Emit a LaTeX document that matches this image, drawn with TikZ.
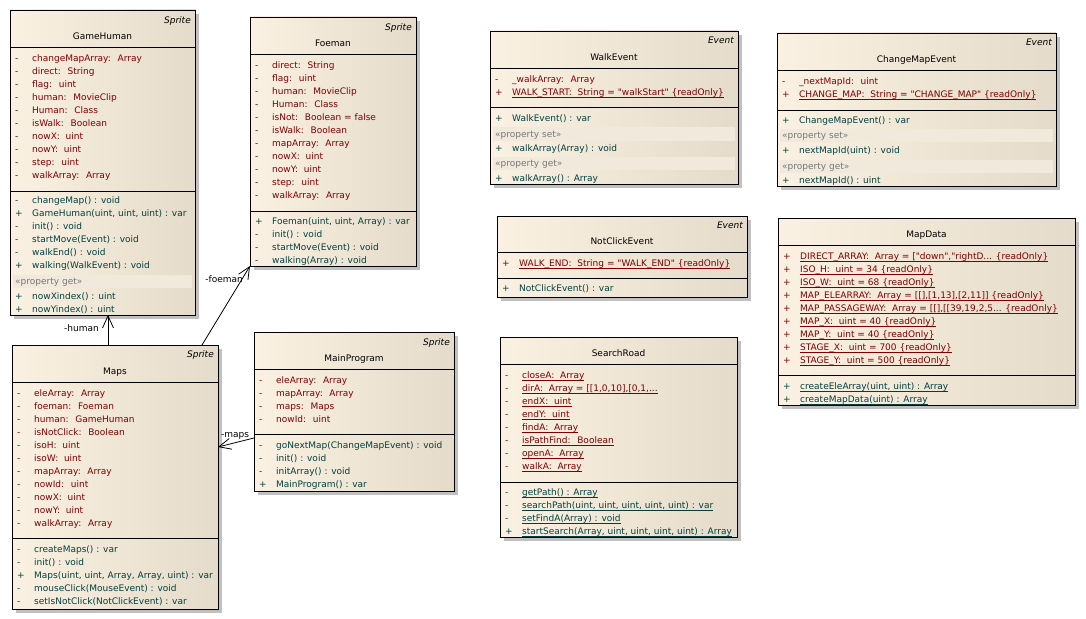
\documentclass[tikz,border=0pt]{standalone}
\usepackage{fontspec}
\newfontfamily\dv{DejaVu Sans}
\usetikzlibrary{arrows.meta}
\definecolor{attrc}{RGB}{128,0,0}
\definecolor{opc}{RGB}{0,64,64}
\definecolor{bgl}{RGB}{251,241,226}
\definecolor{bgr}{RGB}{229,219,202}
\definecolor{bandc}{RGB}{241,233,220}
\definecolor{shadc}{RGB}{192,192,192}
\definecolor{stc}{RGB}{120,120,120}
\newcounter{tn}
\newcommand\fs{\dv\fontsize{9}{11}\selectfont}
\newcommand\uln[1]{\setbox0\hbox{#1}\rlap{\rule[-2.3pt]{\wd0}{0.75pt}}\box0}
\tikzset{
 cls/.style={draw=black, line width=0.9pt, left color=bgl, right color=bgr, inner sep=0pt, outer sep=0pt, anchor=north west},
 shadowbox/.style={fill=shadc},
 sepline/.style={draw=black, line width=0.9pt},
 txt/.style={font=\fs, inner sep=0pt, anchor=base west},
 attr/.style={txt, text=attrc},
 op/.style={txt, text=opc},
 ster/.style={txt, text=stc},
 bandfill/.style={fill=bandc},
 cname/.style={font=\fs, inner sep=0pt, anchor=base},
 stype/.style={font=\fs\itshape, inner sep=0pt, anchor=base east},
 assoc/.style={draw=black, line width=0.8pt, -{Straight Barb[length=12pt,width=11pt]}},
 role/.style={font=\fs, inner sep=0pt},
}
% name, left, top, right, bottom
\newcommand\cbox[5]{%
 \fill[shadowbox] (#2+4,#3+4) rectangle (#4+4,#5+4);
 \node[cls, minimum width={#4-#2}, minimum height={#5-#3}, name=#1] at (#2,#3) {};}
% style, left, y, symbol, text
\newcommand\mrow[5]{\stepcounter{tn}%
 \node[#1, name=v\arabic{tn}] at (#2+5,#3+3.3) {#4};%
 \node[#1, name=n\arabic{tn}] at (#2+22,#3+3.3) {#5};}
% left, right, top, bottom, text
\newcommand\band[5]{\stepcounter{tn}%
 \fill[bandfill] (#1+3,#3) rectangle (#2-3,#4);
 \node[ster, name=b\arabic{tn}] at (#1+5,#3/2+#4/2+3.3) {#5};}
\newcommand\sepl[3]{\draw[sepline] (#1,#3) -- (#2,#3);}

\begin{document}
\begin{tikzpicture}[x=1pt,y=-1pt]
\fill[white] (0,0) rectangle (1086,618);
\useasboundingbox (0,0) rectangle (1086,618);

% ---------------- GameHuman
\cbox{gh}{10}{10}{195}{315}
\node[stype, name=ghs] at (191,23.3) {Sprite};
\node[cname, name=ghn] at (102.5,39.3) {GameHuman};
\sepl{10}{195}{47}
\mrow{attr}{10}{58}{-}{changeMapArray:~ Array}
\mrow{attr}{10}{71}{-}{direct:~ String}
\mrow{attr}{10}{84}{-}{flag:~ uint}
\mrow{attr}{10}{97}{-}{human:~ MovieClip}
\mrow{attr}{10}{110}{-}{Human:~ Class}
\mrow{attr}{10}{123}{-}{isWalk:~ Boolean}
\mrow{attr}{10}{136}{-}{nowX:~ uint}
\mrow{attr}{10}{149}{-}{nowY:~ uint}
\mrow{attr}{10}{162}{-}{step:~ uint}
\mrow{attr}{10}{175}{-}{walkArray:~ Array}
\sepl{10}{195}{191}
\mrow{op}{10}{200}{-}{changeMap() : void}
\mrow{op}{10}{213}{+}{GameHuman(uint, uint, uint) : var}
\mrow{op}{10}{226}{-}{init() : void}
\mrow{op}{10}{239}{-}{startMove(Event) : void}
\mrow{op}{10}{252}{-}{walkEnd() : void}
\mrow{op}{10}{265}{+}{walking(WalkEvent) : void}
\band{10}{195}{275}{288}{«property get»}
\mrow{op}{10}{296}{+}{nowXindex() : uint}
\mrow{op}{10}{309}{+}{nowYindex() : uint}

% ---------------- Foeman
\cbox{fo}{250}{17}{416}{266}
\node[stype, name=fos] at (412,30.3) {Sprite};
\node[cname, name=fon] at (333,46.3) {Foeman};
\sepl{250}{416}{54}
\mrow{attr}{250}{65}{-}{direct:~ String}
\mrow{attr}{250}{78}{-}{flag:~ uint}
\mrow{attr}{250}{91}{-}{human:~ MovieClip}
\mrow{attr}{250}{104}{-}{Human:~ Class}
\mrow{attr}{250}{117}{-}{isNot:~ Boolean = false}
\mrow{attr}{250}{130}{-}{isWalk:~ Boolean}
\mrow{attr}{250}{143}{-}{mapArray:~ Array}
\mrow{attr}{250}{156}{-}{nowX:~ uint}
\mrow{attr}{250}{169}{-}{nowY:~ uint}
\mrow{attr}{250}{182}{-}{step:~ uint}
\mrow{attr}{250}{195}{-}{walkArray:~ Array}
\sepl{250}{416}{211}
\mrow{op}{250}{221}{+}{Foeman(uint, uint, Array) : var}
\mrow{op}{250}{234}{-}{init() : void}
\mrow{op}{250}{247}{-}{startMove(Event) : void}
\mrow{op}{250}{260}{-}{walking(Array) : void}

% ---------------- Maps
\cbox{maps}{12}{345}{218}{609}
\node[stype, name=mas] at (214,357.3) {Sprite};
\node[cname, name=man] at (115,374.3) {Maps};
\sepl{12}{218}{382}
\mrow{attr}{12}{393}{-}{eleArray:~ Array}
\mrow{attr}{12}{406}{-}{foeman:~ Foeman}
\mrow{attr}{12}{419}{-}{human:~ GameHuman}
\mrow{attr}{12}{432}{-}{isNotClick:~ Boolean}
\mrow{attr}{12}{445}{-}{isoH:~ uint}
\mrow{attr}{12}{458}{-}{isoW:~ uint}
\mrow{attr}{12}{471}{-}{mapArray:~ Array}
\mrow{attr}{12}{484}{-}{nowId:~ uint}
\mrow{attr}{12}{497}{-}{nowX:~ uint}
\mrow{attr}{12}{510}{-}{nowY:~ uint}
\mrow{attr}{12}{523}{-}{walkArray:~ Array}
\sepl{12}{218}{538}
\mrow{op}{12}{549}{-}{createMaps() : var}
\mrow{op}{12}{562}{-}{init() : void}
\mrow{op}{12}{575}{+}{Maps(uint, uint, Array, Array, uint) : var}
\mrow{op}{12}{588}{-}{mouseClick(MouseEvent) : void}
\mrow{op}{12}{601}{-}{setIsNotClick(NotClickEvent) : var}

% ---------------- MainProgram
\cbox{mpg}{254}{332}{454}{491}
\node[stype, name=mps] at (450,345.3) {Sprite};
\node[cname, name=mpn] at (354,361.3) {MainProgram};
\sepl{254}{454}{369}
\mrow{attr}{254}{380}{-}{eleArray:~ Array}
\mrow{attr}{254}{393}{-}{mapArray:~ Array}
\mrow{attr}{254}{406}{-}{maps:~ Maps}
\mrow{attr}{254}{419}{-}{nowId:~ uint}
\sepl{254}{454}{434}
\mrow{op}{254}{445}{-}{goNextMap(ChangeMapEvent) : void}
\mrow{op}{254}{458}{-}{init() : void}
\mrow{op}{254}{471}{-}{initArray() : void}
\mrow{op}{254}{484}{+}{MainProgram() : var}

% ---------------- WalkEvent
\cbox{we}{490}{31}{738}{184}
\node[stype, name=wes] at (734,43.3) {Event};
\node[cname, name=wen] at (614,60.3) {WalkEvent};
\sepl{490}{738}{68}
\mrow{attr}{490}{79}{-}{\_walkArray:~ Array}
\mrow{attr}{490}{92}{+}{\uln{WALK\_START:~ String = "walkStart" \{readOnly\}}}
\sepl{490}{738}{107}
\mrow{op}{490}{118}{+}{WalkEvent() : var}
\band{490}{738}{127}{141}{«property set»}
\mrow{op}{490}{148}{+}{walkArray(Array) : void}
\band{490}{738}{157}{170}{«property get»}
\mrow{op}{490}{178}{+}{walkArray() : Array}

% ---------------- ChangeMapEvent
\cbox{cme}{777}{33}{1056}{186}
\node[stype, name=cmes] at (1052,45.3) {Event};
\node[cname, name=cmen] at (916.5,62.3) {ChangeMapEvent};
\sepl{777}{1056}{70}
\mrow{attr}{777}{81}{-}{\_nextMapId:~ uint}
\mrow{attr}{777}{94}{+}{\uln{CHANGE\_MAP:~ String = "CHANGE\_MAP" \{readOnly\}}}
\sepl{777}{1056}{110}
\mrow{op}{777}{120}{+}{ChangeMapEvent() : var}
\band{777}{1056}{129}{142}{«property set»}
\mrow{op}{777}{150}{+}{nextMapId(uint) : void}
\band{777}{1056}{160}{173}{«property get»}
\mrow{op}{777}{180}{+}{nextMapId() : uint}

% ---------------- NotClickEvent
\cbox{nce}{497}{216}{747}{297}
\node[stype, name=nces] at (743,228.3) {Event};
\node[cname, name=ncen] at (622,244.3) {NotClickEvent};
\sepl{497}{747}{252}
\mrow{attr}{497}{263}{+}{\uln{WALK\_END:~ String = "WALK\_END" \{readOnly\}}}
\sepl{497}{747}{278}
\mrow{op}{497}{288}{+}{NotClickEvent() : var}

% ---------------- SearchRoad
\cbox{sr}{500}{337}{737}{537}
\node[cname, name=srn] at (618.5,356.3) {SearchRoad};
\sepl{500}{737}{364}
\mrow{attr}{500}{375}{-}{\uln{closeA:~ Array}}
\mrow{attr}{500}{388}{-}{\uln{dirA:~ Array = [[1,0,10],[0,1,...}}
\mrow{attr}{500}{401}{-}{\uln{endX:~ uint}}
\mrow{attr}{500}{414}{-}{\uln{endY:~ uint}}
\mrow{attr}{500}{427}{-}{\uln{findA:~ Array}}
\mrow{attr}{500}{440}{-}{\uln{isPathFind:~ Boolean}}
\mrow{attr}{500}{453}{-}{\uln{openA:~ Array}}
\mrow{attr}{500}{466}{-}{\uln{walkA:~ Array}}
\sepl{500}{737}{482}
\mrow{op}{500}{492}{-}{\uln{getPath() : Array}}
\mrow{op}{500}{505}{-}{\uln{searchPath(uint, uint, uint, uint, uint) : var}}
\mrow{op}{500}{518}{-}{\uln{setFindA(Array) : void}}
\mrow{op}{500}{531}{+}{\uln{startSearch(Array, uint, uint, uint, uint) : Array}}

% ---------------- MapData
\cbox{md}{778}{218}{1075}{405}
\node[cname, name=mdn] at (926.5,237.3) {MapData};
\sepl{778}{1075}{245}
\mrow{attr}{778}{256}{+}{\uln{DIRECT\_ARRAY:~ Array = ["down","rightD... \{readOnly\}}}
\mrow{attr}{778}{269}{+}{\uln{ISO\_H:~ uint = 34 \{readOnly\}}}
\mrow{attr}{778}{282}{+}{\uln{ISO\_W:~ uint = 68 \{readOnly\}}}
\mrow{attr}{778}{295}{+}{\uln{MAP\_ELEARRAY:~ Array = [[],[1,13],[2,11]] \{readOnly\}}}
\mrow{attr}{778}{308}{+}{\uln{MAP\_PASSAGEWAY:~ Array = [[],[[39,19,2,5... \{readOnly\}}}
\mrow{attr}{778}{321}{+}{\uln{MAP\_X:~ uint = 40 \{readOnly\}}}
\mrow{attr}{778}{334}{+}{\uln{MAP\_Y:~ uint = 40 \{readOnly\}}}
\mrow{attr}{778}{347}{+}{\uln{STAGE\_X:~ uint = 700 \{readOnly\}}}
\mrow{attr}{778}{360}{+}{\uln{STAGE\_Y:~ uint = 500 \{readOnly\}}}
\sepl{778}{1075}{375}
\mrow{op}{778}{386}{+}{\uln{createEleArray(uint, uint) : Array}}
\mrow{op}{778}{399}{+}{\uln{createMapData(uint) : Array}}

% ---------------- associations
\draw[assoc] ([xshift=96pt]maps.north west) -- ([xshift=98pt]gh.south west);
\node[role, anchor=east, name=lh] at (99,328) {-human};
\draw[assoc] ([xshift=190pt]maps.north west) -- (fo.south west);
\node[role, anchor=east, name=lf] at (243,279) {-foeman};
\draw[assoc] ([yshift=-106pt]mpg.north west) -- ([yshift=-102pt]maps.north east);
\node[role, anchor=west, name=lm] at (221,436) {-maps};
\end{tikzpicture}
\end{document}
